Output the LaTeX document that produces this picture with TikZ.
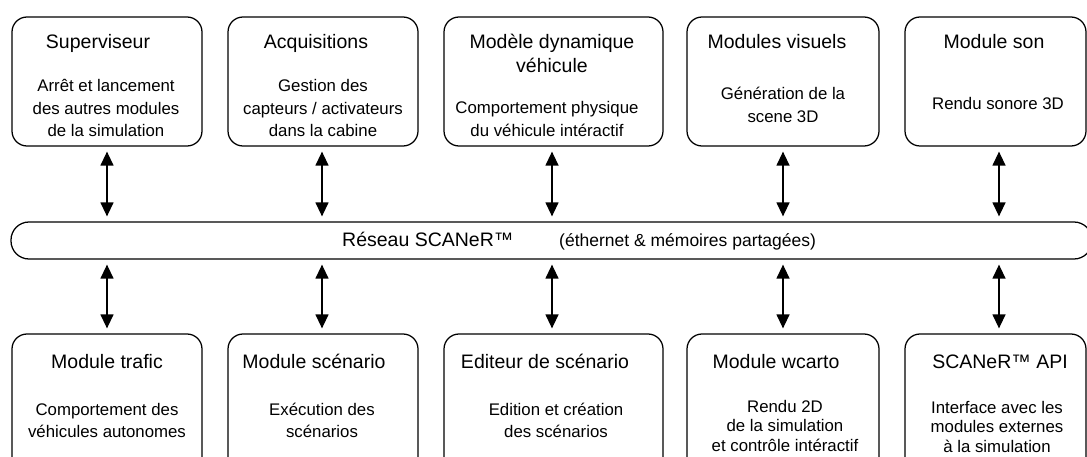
\documentclass[tikz,border=0pt]{standalone}
\usepackage{fontspec}
\setmainfont{Liberation Sans}
\usetikzlibrary{arrows.meta}
\newcommand\mlines[1]{\begin{tabular}[t]{@{}c@{}}#1\end{tabular}}
\tikzset{
  modbox/.style={draw, rounded corners=15pt, line width=1.25pt, minimum width=190pt, minimum height=129pt, inner sep=0pt},
  lowbox/.style={modbox, minimum height=140pt},
  busbox/.style={draw, rounded corners=18pt, line width=1.25pt, minimum height=37pt, inner sep=0pt},
  ttl/.style={font=\fontsize{19.5}{24}\selectfont, anchor=base, inner sep=0pt},
  bdy/.style={font=\fontsize{16.8}{22.5}\selectfont, anchor=base, inner sep=0pt},
  bdyt/.style={font=\fontsize{16.8}{19.5}\selectfont, anchor=base, inner sep=0pt},
  link/.style={line width=1.3pt, {Triangle[length=14pt,width=13pt]}-{Triangle[length=14pt,width=13pt]}, shorten <=5pt, shorten >=5pt}
}
\begin{document}
\begin{tikzpicture}[x=1pt,y=-1pt]
\useasboundingbox (0,0) rectangle (1087,457);
\clip (0,0) rectangle (1087,457);
% top boxes
\node[modbox] (t1) at (107,81.5) {};
\node[modbox] (t2) at (323,81.5) {};
\node[modbox, minimum width=219pt] (t3) at (553.5,81.5) {};
\node[modbox, minimum width=192pt] (t4) at (783,81.5) {};
\node[modbox, minimum width=181pt] (t5) at (995.5,81.5) {};
% bus
\node[busbox, minimum width=1081pt] (bus) at (551.5,240.5) {};
% bottom boxes
\node[lowbox] (b1) at (107,404) {};
\node[lowbox] (b2) at (323,404) {};
\node[lowbox, minimum width=219pt] (b3) at (553.5,404) {};
\node[lowbox, minimum width=192pt] (b4) at (783,404) {};
\node[lowbox, minimum width=181pt] (b5) at (995.5,404) {};
% top texts
\node[ttl] (t1a) at (98,49) {Superviseur};
\node[bdy] (t1b) at (106,92) {\mlines{Arrêt et lancement\\des autres modules\\de la simulation}};
\node[ttl] (t2a) at (316,49) {Acquisitions};
\node[bdy] (t2b) at (323,92) {\mlines{Gestion des\\capteurs / activateurs\\dans la cabine}};
\node[ttl] (t3a) at (552,49) {\mlines{Modèle dynamique\\véhicule}};
\node[bdy] (t3b) at (547,114) {\mlines{Comportement physique\\du véhicule intéractif}};
\node[ttl] (t4a) at (777,49) {Modules visuels};
\node[bdy] (t4b) at (783,100) {\mlines{Génération de la\\scene 3D}};
\node[ttl] (t5a) at (994,49) {Module son};
\node[bdy] (t5b) at (998,110) {Rendu sonore 3D};
% bus texts
\node[ttl, anchor=base west] (busa) at (342,247) {Réseau SCANeR™};
\node[font=\fontsize{17.5}{21}\selectfont, inner sep=0pt, anchor=base west] (busb) at (559,247) {(éthernet \& mémoires partagées)};
% bottom texts
\node[ttl] (b1a) at (107,368) {Module trafic};
\node[bdy] (b1b) at (107,415) {\mlines{Comportement des\\véhicules autonomes}};
\node[ttl] (b2a) at (314,368) {Module scénario};
\node[bdy] (b2b) at (322,415) {\mlines{Exécution des\\scénarios}};
\node[ttl] (b3a) at (545,368) {Editeur de scénario};
\node[bdy] (b3b) at (556,415) {\mlines{Edition et création\\des scénarios}};
\node[ttl] (b4a) at (776,368) {Module wcarto};
\node[bdyt] (b4b) at (785,412) {\mlines{Rendu 2D\\de la simulation\\et contrôle intéractif}};
\node[ttl] (b5a) at (1000,368) {SCANeR™ API};
\node[bdyt] (b5b) at (997,413) {\mlines{Interface avec les\\modules externes\\à la simulation}};
% connectors
\foreach \b/\x in {t1/107,t2/322,t3/552,t4/783,t5/999}{
  \draw[link] (\b.south -| \x,0) -- (bus.north -| \x,0);
}
\foreach \b/\x in {b1/107,b2/322,b3/552,b4/783,b5/999}{
  \draw[link] (bus.south -| \x,0) -- (\b.north -| \x,0);
}
\end{tikzpicture}
\end{document}
